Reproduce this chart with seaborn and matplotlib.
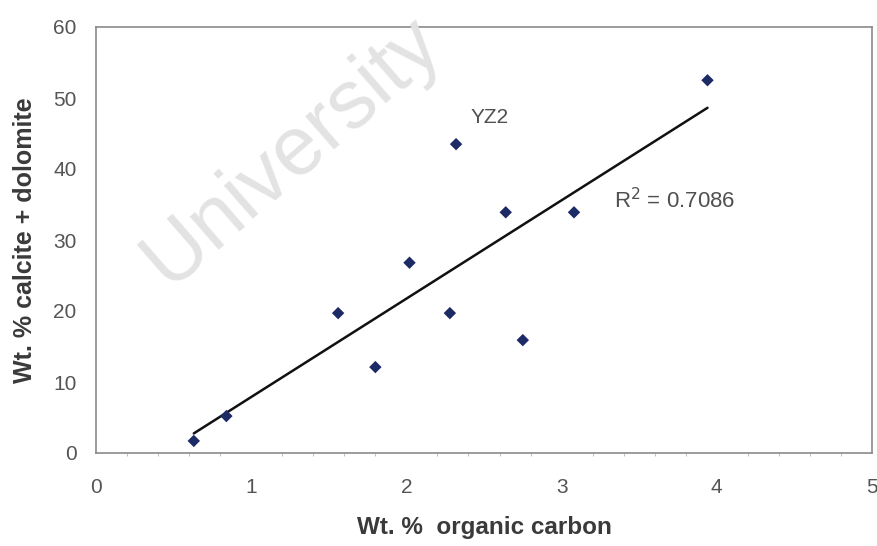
import numpy as np
import pandas as pd
import matplotlib
matplotlib.use("Agg")
import matplotlib.pyplot as plt
import seaborn as sns
from matplotlib.ticker import MultipleLocator

# Organic carbon vs carbonate content of the samples
organic_carbon = [0.63, 0.84, 1.56, 1.80, 2.02, 2.28, 2.32, 2.64, 2.75, 3.08, 3.94]
calcite_dolomite = [1.7, 5.2, 19.7, 12.1, 26.8, 19.7, 43.5, 33.9, 15.9, 33.9, 52.5]
r2_label = "R$^2$ = 0.7086"
outlier_label = "YZ2"
x_ticks = [0, 1, 2, 3, 4, 5]
y_ticks = [0, 10, 20, 30, 40, 50, 60]

df = pd.DataFrame({"oc": organic_carbon, "cd": calcite_dolomite})

sns.set_style("white")
plt.rcParams["font.family"] = ["Liberation Sans", "DejaVu Sans"]

fig = plt.figure(figsize=(8.77, 5.46), dpi=100)
ax = fig.add_axes([96 / 877, 1 - 453 / 546, 776 / 877, 426 / 546])

# linear trendline through the samples
slope, intercept = np.polyfit(df["oc"], df["cd"], 1)
xfit = np.array([df["oc"].min(), df["oc"].max()])
ax.plot(xfit, slope * xfit + intercept, color="#111111", lw=1.8, zorder=2)

sns.scatterplot(data=df, x="oc", y="cd", marker="D", s=40, color="#1c2a66",
                edgecolor="none", ax=ax, zorder=3)

ax.set_xlim(0, 5)
ax.set_ylim(0, 60)
ax.set_xticks(x_ticks)
ax.set_yticks(y_ticks)
ax.xaxis.set_minor_locator(MultipleLocator(0.2))

for sp in ax.spines.values():
    sp.set_color("#8a8a8a")
    sp.set_linewidth(1.2)

ax.tick_params(axis="both", which="major", direction="out", length=5, width=1,
               color="#8a8a8a", labelsize=15, labelcolor="#555555")
ax.tick_params(axis="x", which="major", pad=13)
ax.tick_params(axis="y", which="major", pad=9)
ax.tick_params(axis="x", which="minor", direction="out", length=2.5, width=0.8,
               color="#c4c4c4", bottom=True)

ax.set_xlabel("Wt. %  organic carbon", fontsize=17.5, fontweight="bold",
              color="#3a3a3a", labelpad=14)
ax.set_ylabel("Wt. % calcite + dolomite", fontsize=18, fontweight="bold",
              color="#3a3a3a", labelpad=12)

ax.text(2.41, 47.2, outlier_label, fontsize=15, color="#505050",
        va="center", ha="left")
ax.text(3.34, 35.6, r2_label, fontsize=16, color="#505050",
        va="center", ha="left")

# faint watermark across the upper-left of the plot
fig.text(0.333, 0.722, "University", fontsize=60, color="#e3e3e3",
         rotation=41, rotation_mode="anchor", ha="center", va="center",
         zorder=10)

fig.savefig("out.png", dpi=100, facecolor="white")
